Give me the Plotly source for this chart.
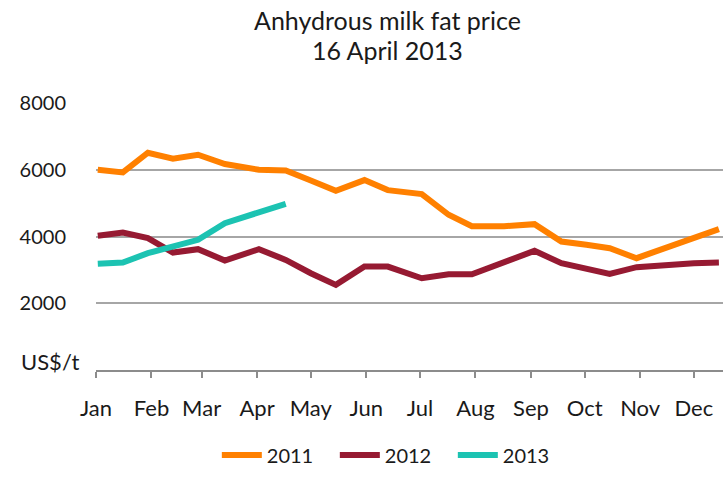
import plotly.graph_objects as go

dates = ["2011-01-02", "2011-01-16", "2011-01-30", "2011-02-13", "2011-02-27",
         "2011-03-14", "2011-04-02", "2011-04-17", "2011-05-01", "2011-05-15",
         "2011-05-31", "2011-06-13", "2011-07-02", "2011-07-17", "2011-07-30",
         "2011-08-17", "2011-09-03", "2011-09-18", "2011-10-02", "2011-10-15",
         "2011-10-30", "2011-11-15", "2011-12-01", "2011-12-15"]

price_2011 = [6000, 5920, 6510, 6330, 6450, 6170, 6000, 5980, 5680, 5370,
              5690, 5390, 5270, 4650, 4310, 4310, 4370, 3850, 3750, 3650,
              3350, 3650, 3950, 4220]
price_2012 = [4020, 4120, 3950, 3520, 3620, 3280, 3620, 3300, 2900, 2550,
              3100, 3100, 2750, 2870, 2870, 3250, 3570, 3200, 3040, 2880,
              3080, 3150, 3200, 3220]
price_2013 = [3180, 3220, 3500, 3700, 3900, 4400, 4750, 4980]

month_ticks = ["2011-01-01", "2011-02-01", "2011-03-01", "2011-04-01", "2011-05-01",
               "2011-06-01", "2011-07-01", "2011-08-01", "2011-09-01", "2011-10-01",
               "2011-11-01", "2011-12-01"]
month_labels = ["Jan", "Feb", "Mar", "Apr", "May", "Jun", "Jul", "Aug", "Sep",
                "Oct", "Nov", "Dec"]
y_ticks = [2000, 4000, 6000, 8000]

FONT = "Lato"
TXT = "#1a1a1a"

fig = go.Figure()
fig.add_trace(go.Scatter(x=dates, y=price_2011, mode="lines", name="2011",
                         line=dict(color="#FF8000", width=6)))
fig.add_trace(go.Scatter(x=dates, y=price_2012, mode="lines", name="2012",
                         line=dict(color="#961A32", width=6)))
fig.add_trace(go.Scatter(x=dates[:len(price_2013)], y=price_2013, mode="lines", name="2013",
                         line=dict(color="#1CC3B2", width=6)))

fig.update_layout(
    width=723, height=494,
    margin=dict(l=96, r=0, t=103, b=124),
    plot_bgcolor="white", paper_bgcolor="white",
    font=dict(family=FONT, size=20, color=TXT),
    showlegend=True,
    legend=dict(orientation="h", x=0.475, xanchor="center", y=-0.318, yanchor="middle",
                font=dict(family=FONT, size=20, color=TXT), itemwidth=40,
                entrywidth=63, entrywidthmode="pixels",
                traceorder="normal"),
    xaxis=dict(type="date", range=["2011-01-01", "2011-12-17 07:00"],
               tickvals=month_ticks, ticktext=month_labels,
               showgrid=False, showline=True, linecolor="#8c8c8c", linewidth=1.5,
               ticks="outside", ticklen=6, tickcolor="#8c8c8c", tickwidth=1.5,
               ticklabelstandoff=12, zeroline=False,
               tickfont=dict(family=FONT, size=22, color=TXT)),
    yaxis=dict(range=[0, 8000], tickvals=y_ticks, showgrid=True,
               gridcolor="#a6a6a6", gridwidth=1.5, zeroline=False, showline=False,
               ticks="", ticklabelstandoff=29,
               tickfont=dict(family=FONT, size=20, color=TXT)),
    annotations=[
        dict(text="Anhydrous milk fat price", xref="paper", yref="paper",
             x=0.4657, y=1.311, xanchor="center", yanchor="middle", showarrow=False,
             font=dict(family=FONT, size=25, color=TXT)),
        dict(text="16 April 2013", xref="paper", yref="paper",
             x=0.4657, y=1.198, xanchor="center", yanchor="middle", showarrow=False,
             font=dict(family=FONT, size=25, color=TXT)),
        dict(text="US$/t", xref="paper", yref="paper", x=-0.0228, y=0.031,
             xanchor="right", yanchor="middle", showarrow=False,
             font=dict(family=FONT, size=22, color=TXT)),
    ],
)

fig.write_html("out.html", config={"displayModeBar": False},
               post_script="document.body.style.margin='0px';")
